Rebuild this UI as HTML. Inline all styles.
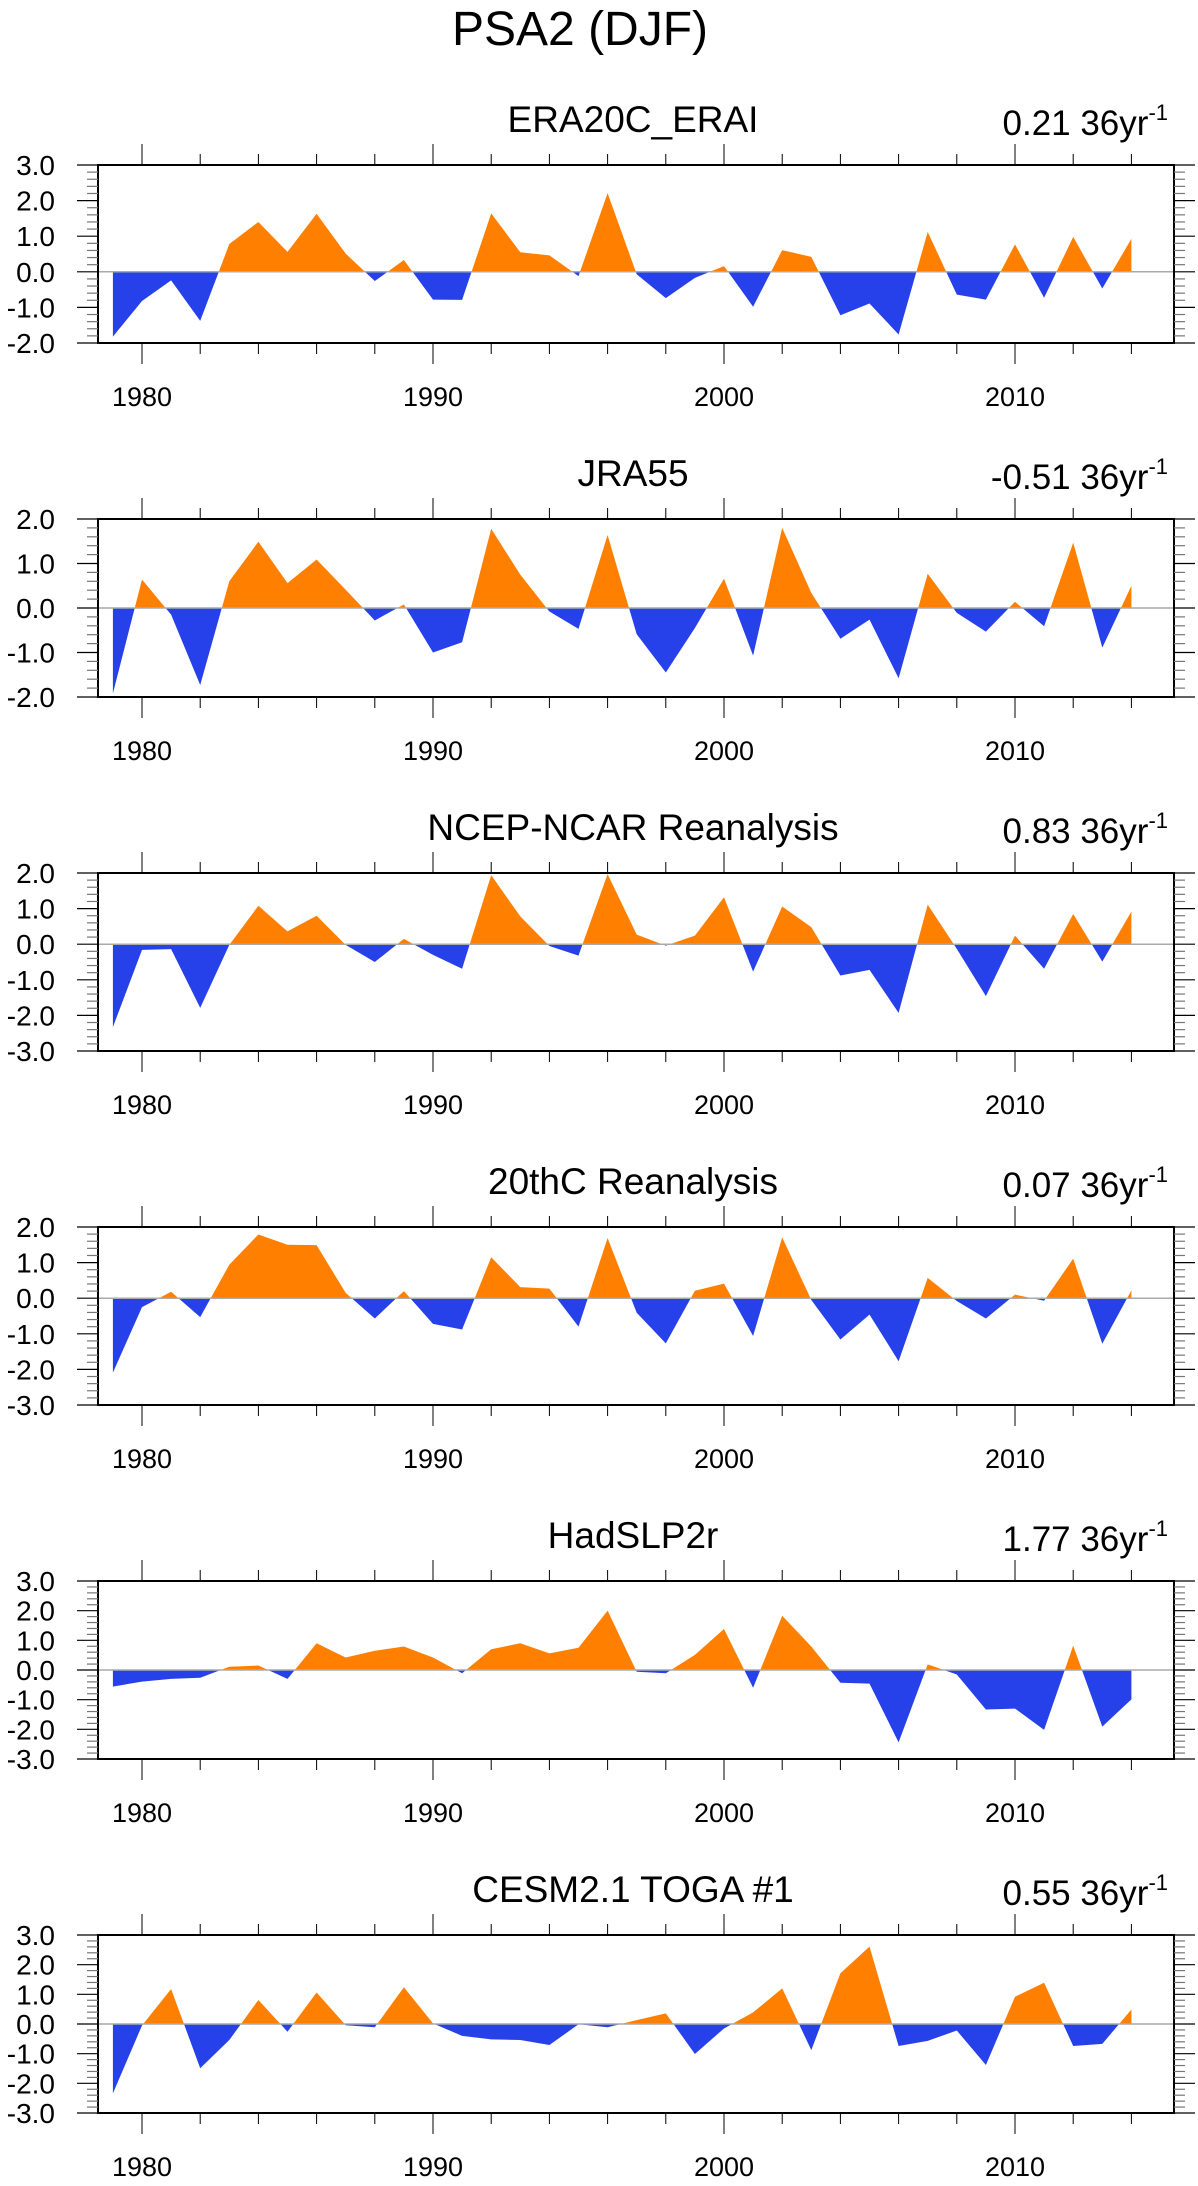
<!DOCTYPE html>
<html><head><meta charset="utf-8"><style>
html,body{margin:0;padding:0;background:#fff}
svg{display:block}
text{font-family:"Liberation Sans",Arial,sans-serif;fill:#000}
</style></head>
<body>
<svg id="fig" width="1198" height="2186" viewBox="0 0 1198 2186" xmlns="http://www.w3.org/2000/svg">
<text x="580" y="45" font-size="48" text-anchor="middle">PSA2 (DJF)</text>
</svg>
<script>
const years = [];
for (let y = 1979; y <= 2014; y++) years.push(y);
const xTickLabels = [1980, 1990, 2000, 2010];
const titles = ["ERA20C_ERAI", "JRA55", "NCEP-NCAR Reanalysis", "20thC Reanalysis", "HadSLP2r", "CESM2.1 TOGA #1"];
const trends = ["0.21", "-0.51", "0.83", "0.07", "1.77", "0.55"];
const yMins = [-2, -2, -3, -3, -3, -3];
const yMaxs = [3, 2, 2, 2, 3, 3];
const era20c = [-1.82,-0.82,-0.24,-1.38,0.78,1.40,0.56,1.63,0.51,-0.26,0.33,-0.78,-0.79,1.64,0.55,0.46,-0.12,2.21,-0.07,-0.74,-0.17,0.16,-0.98,0.61,0.42,-1.22,-0.89,-1.76,1.12,-0.64,-0.78,0.77,-0.73,0.98,-0.47,0.93];
const jra55 = [-1.92,0.64,-0.15,-1.73,0.60,1.49,0.56,1.09,0.41,-0.28,0.08,-1.00,-0.77,1.78,0.75,-0.08,-0.47,1.64,-0.59,-1.45,-0.45,0.66,-1.07,1.80,0.34,-0.69,-0.26,-1.58,0.77,-0.11,-0.53,0.14,-0.41,1.47,-0.89,0.50];
const ncep = [-2.33,-0.16,-0.14,-1.79,-0.02,1.08,0.36,0.80,-0.02,-0.50,0.15,-0.30,-0.69,1.94,0.78,-0.05,-0.32,1.97,0.27,-0.04,0.24,1.32,-0.77,1.06,0.48,-0.88,-0.72,-1.93,1.11,-0.13,-1.46,0.24,-0.69,0.85,-0.49,0.92];
const c20 = [-2.09,-0.25,0.18,-0.53,0.94,1.79,1.50,1.49,0.15,-0.57,0.20,-0.72,-0.88,1.15,0.31,0.27,-0.80,1.69,-0.41,-1.27,0.21,0.41,-1.06,1.71,-0.05,-1.16,-0.46,-1.77,0.57,-0.08,-0.57,0.10,-0.07,1.11,-1.28,0.22];
const hadslp = [-0.56,-0.39,-0.30,-0.26,0.11,0.15,-0.30,0.90,0.42,0.65,0.79,0.42,-0.11,0.70,0.90,0.56,0.75,2.00,-0.06,-0.11,0.51,1.38,-0.60,1.83,0.79,-0.43,-0.46,-2.44,0.19,-0.15,-1.33,-1.30,-2.02,0.82,-1.91,-0.99];
const cesm = [-2.34,-0.05,1.18,-1.49,-0.54,0.81,-0.26,1.06,-0.04,-0.11,1.24,0.02,-0.40,-0.52,-0.54,-0.71,-0.01,-0.11,0.13,0.36,-1.01,-0.15,0.39,1.20,-0.88,1.71,2.61,-0.74,-0.57,-0.22,-1.38,0.92,1.39,-0.74,-0.67,0.49];
const series = [era20c, jra55, ncep, c20, hadslp, cesm];

const NS = "http://www.w3.org/2000/svg";
const svg = document.getElementById('fig');
const L = 98, R = 1174, H = 178;
function xs(yr){ return 142 + (yr - 1980) * 29.1; }
function mk(tag, attrs, parent){
  const e = document.createElementNS(NS, tag);
  for (const k in attrs) e.setAttribute(k, attrs[k]);
  (parent || svg).appendChild(e);
  return e;
}
series.forEach((vals, p) => {
  const top = 165 + p * 354, bot = top + H;
  const lo = yMins[p], hi = yMaxs[p];
  const ys = v => bot - (v - lo) / (hi - lo) * H;
  const g = mk('g', {});
  
  
  const t = mk('text', {x: 633, y: top - 33, 'font-size': 37, 'text-anchor': 'middle'}, g);
  
  
  t.textContent = titles[p];
  const tr = mk('text', {x: 1168, y: top - 30, 'font-size': 35, 'text-anchor': 'end'}, g);
  
  
  const s1 = mk('tspan', {}, tr); s1.textContent = trends[p] + ' 36yr';
  const s2 = mk('tspan', {dy: -15, 'font-size': 22}, tr); s2.textContent = '-1';
  const z = ys(0);
  let d = 'M' + xs(years[0]) + ',' + z;
  years.forEach((yr, i) => { d += ' L' + xs(yr).toFixed(2) + ',' + ys(vals[i]).toFixed(2); });
  d += ' L' + xs(years[years.length - 1]) + ',' + z + ' Z';
  const cpA = mk('clipPath', {id: 'ca' + p}, g); mk('rect', {x: L, y: top, width: R - L, height: z - top}, cpA);
  const cpB = mk('clipPath', {id: 'cb' + p}, g); mk('rect', {x: L, y: z, width: R - L, height: bot - z}, cpB);
  const pa = mk('path', {d: d, fill: '#ff8000', 'clip-path': 'url(#ca' + p + ')'}, g);
  
  
  const pb = mk('path', {d: d, fill: '#2741ea', 'clip-path': 'url(#cb' + p + ')'}, g);
  
  
  const zl = mk('line', {x1: L, x2: R, y1: z, y2: z, stroke: '#aaa', 'stroke-width': 1.5}, g);
  
  
  const box = mk('rect', {x: L, y: top, width: R - L, height: H, fill: 'none', stroke: '#000', 'stroke-width': 2}, g);
  
  
  for (let yr = 1980; yr <= 2014; yr += 2) {
    const major = yr % 10 === 0, len = major ? 21 : 11, x = xs(yr);
    mk('line', {x1: x, x2: x, y1: top, y2: top - len, stroke: '#000', 'stroke-width': 1}, g);
    mk('line', {x1: x, x2: x, y1: bot, y2: bot + len, stroke: '#000', 'stroke-width': 1}, g);
  }
  xTickLabels.forEach(yr => {
    const tl = mk('text', {x: xs(yr), y: bot + 63, 'font-size': 27, 'text-anchor': 'middle'}, g);
    
    
    tl.textContent = yr;
  });
  for (let k = Math.round(lo * 5); k <= Math.round(hi * 5); k++) {
    const v = k / 5, y = ys(v), major = k % 5 === 0, len = major ? 21 : 11;
    const col = major ? '#000' : '#777';
    mk('line', {x1: L, x2: L - len, y1: y, y2: y, stroke: col, 'stroke-width': 1.2}, g);
    mk('line', {x1: R, x2: R + len, y1: y, y2: y, stroke: col, 'stroke-width': 1.2}, g);
    if (major) {
      const yl = mk('text', {x: 55, y: y + 10, 'font-size': 28, 'text-anchor': 'end'}, g);
      
      
      yl.textContent = v.toFixed(1);
    }
  }
});
</script>
</body></html>
